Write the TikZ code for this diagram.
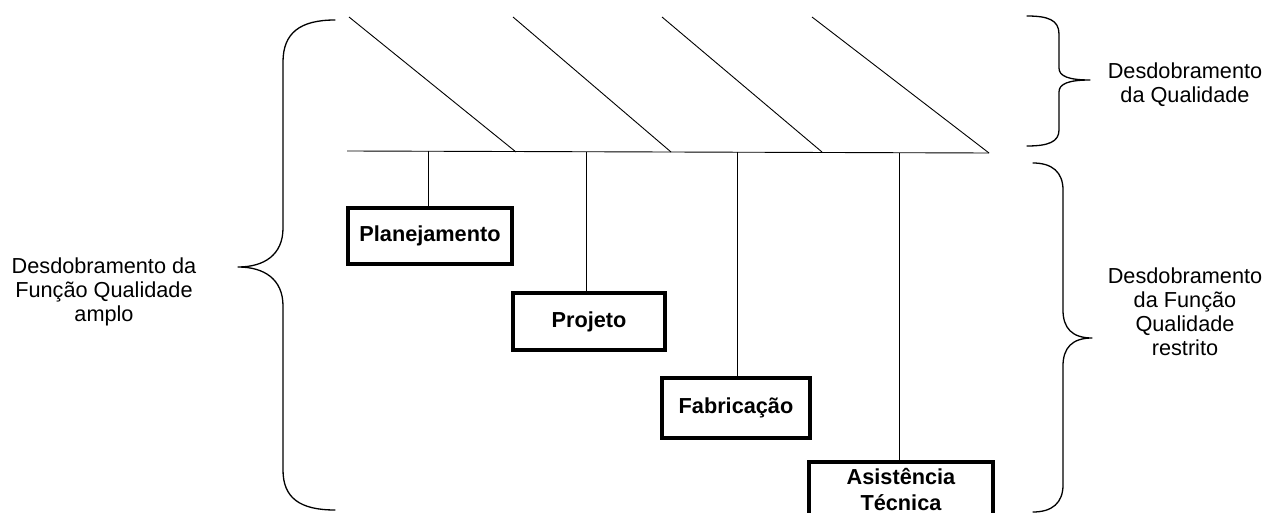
\documentclass[tikz,border=0pt]{standalone}
\usepackage{fontspec}
\setmainfont{Liberation Sans}
\begin{document}
\begin{tikzpicture}[x=1pt,y=-1pt,
  thinline/.style={line width=0.9pt},
  bracepath/.style={line width=1.3pt, line cap=round, line join=round},
  procbox/.style={draw, line width=4pt, fill=white,
    font=\bfseries\fontsize{21.7}{26}\selectfont, align=center, inner sep=0pt},
  lbl/.style={font=\fontsize{21.7}{24}\selectfont, align=center, inner sep=0pt}]
\useasboundingbox (0,0) rectangle (1278,513);

% main spine of the diagram
\coordinate (sL) at (347,151);
\coordinate (sR) at (989,153);
\draw[thinline] (sL) -- (sR);

% slanted bones meeting the spine
\coordinate (t1) at (349,17);  \coordinate (b1) at (516,152);
\coordinate (t2) at (513,17);  \coordinate (b2) at (671,152);
\coordinate (t3) at (662,17);  \coordinate (b3) at (822,152);
\coordinate (t4) at (812,17);  \coordinate (b4) at (989,153);
\foreach \i in {1,...,4} \draw[thinline] (t\i) -- (b\i);

% stage boxes hanging below the spine
\node[procbox, minimum width=164pt, minimum height=56pt] (plan) at (430,236) {Planejamento};
\node[procbox, minimum width=152pt, minimum height=57pt] (proj) at (589,321.5) {Projeto};
\node[procbox, minimum width=148pt, minimum height=60pt] (fab) at (736,408) {Fabricação};
\node[procbox, minimum width=184pt, minimum height=56pt] (asis) at (901,490) {Asistência\\Técnica};

\coordinate (h1) at (428,151);
\coordinate (h2) at (586,152);
\coordinate (h3) at (737,152);
\coordinate (h4) at (899,153);
\draw[thinline] (h1) -- (h1 |- plan.north);
\draw[thinline] (h2) -- (h2 |- proj.north);
\draw[thinline] (h3) -- (h3 |- fab.north);
\draw[thinline] (h4) -- (h4 |- asis.north);

% left brace: whole scope
\draw[bracepath] (335,20) .. controls (300,20) and (283,33) .. (283,62)
  -- (283,228) .. controls (283,255) and (264,267) .. (238,267)
  .. controls (264,267) and (283,279) .. (283,306)
  -- (283,470) .. controls (283,498) and (300,510) .. (335,510);
\node[lbl] (amplo) at (104,292) {Desdobramento da\\Função Qualidade\\amplo};

% upper right brace
\draw[bracepath] (1027,16) .. controls (1048,16) and (1059,20) .. (1059,34)
  -- (1059,68) .. controls (1059,76) and (1068,80) .. (1090,80)
  .. controls (1068,80) and (1059,84) .. (1059,92)
  -- (1059,130) .. controls (1059,142) and (1048,146) .. (1027,146);
\node[lbl] (dq) at (1185,85) {Desdobramento\\da Qualidade};

% lower right brace
\draw[bracepath] (1033,163) .. controls (1052,163) and (1063,172) .. (1063,190)
  -- (1063,310) .. controls (1063,328) and (1072,338) .. (1092,338)
  .. controls (1072,338) and (1063,348) .. (1063,366)
  -- (1063,485) .. controls (1063,503) and (1052,512) .. (1033,512);
\node[lbl] (restrito) at (1185,312) {Desdobramento\\da Função\\Qualidade\\restrito};
\end{tikzpicture}
\end{document}
